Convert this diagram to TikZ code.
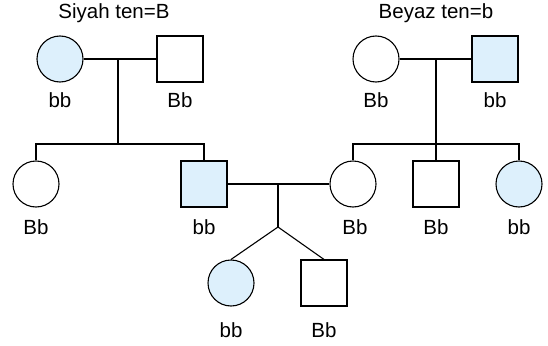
\documentclass[tikz,border=0pt]{standalone}
\usepackage{fontspec}
\setmainfont{Liberation Sans}
\definecolor{skin}{RGB}{221,240,252}
\tikzset{
  female/.style={draw, circle, minimum size=46pt, inner sep=0pt},
  male/.style={draw, rectangle, minimum size=46pt, inner sep=0pt},
  dark/.style={fill=skin},
  geno/.style={inner sep=0pt, anchor=center}
}
\begin{document}
\begin{tikzpicture}[x=1pt,y=-1pt, line width=1.1pt, font=\fontsize{20.5}{24}\selectfont]
\useasboundingbox (0,0) rectangle (548,345);

% ===== Left grandparents =====
\node[geno] (ltitle) at (114,13) {Siyah ten=B};
\node[female, dark] (lm) at (60,59) {};
\node[male] (lf) at (180,59) {};
\node[geno] (lmlab) at (60,100) {bb};
\node[geno] (lflab) at (180,100) {Bb};
\coordinate (lmar) at (118,59);
\coordinate (lsib) at (118,144);

% ===== Right grandparents =====
\node[geno] (rtitle) at (436,13) {Beyaz ten=b};
\node[female] (rm) at (376,59) {};
\node[male, dark] (rf) at (495,59) {};
\node[geno] (rmlab) at (376,100) {Bb};
\node[geno] (rflab) at (495,100) {bb};
\coordinate (rmar) at (436,59);
\coordinate (rsib) at (436,144);

% ===== Children =====
\node[female] (c1) at (36,184) {};
\node[male, dark] (c2) at (204,184) {};
\node[female] (c3) at (353,184) {};
\node[male] (c4) at (436,184) {};
\node[female, dark] (c5) at (519,184) {};
\node[geno] (c1lab) at (36,227) {Bb};
\node[geno] (c2lab) at (204,227) {bb};
\node[geno] (c3lab) at (355,227) {Bb};
\node[geno] (c4lab) at (436,227) {Bb};
\node[geno] (c5lab) at (519,227) {bb};
\coordinate (cmar) at (278,184);
\coordinate (cfork) at (278,227);

% ===== Grandchildren =====
\node[female, dark] (g1) at (231,283) {};
\node[male] (g2) at (324,283) {};
\node[geno] (g1lab) at (231,330) {bb};
\node[geno] (g2lab) at (324,330) {Bb};

% ===== Lines =====
\draw (lm) -- (lf);
\draw (lmar) -- (lsib);
\draw (c1) |- (lsib) -| (c2);

\draw (rm) -- (rf);
\draw (rmar) -- (rsib) -- (c4);
\draw (c3) |- (rsib) -| (c5);

\draw (c2) -- (c3);
\draw (cmar) -- (cfork);
\draw (cfork) -- (g1.north);
\draw (cfork) -- (g2.north);

\end{tikzpicture}
\end{document}
